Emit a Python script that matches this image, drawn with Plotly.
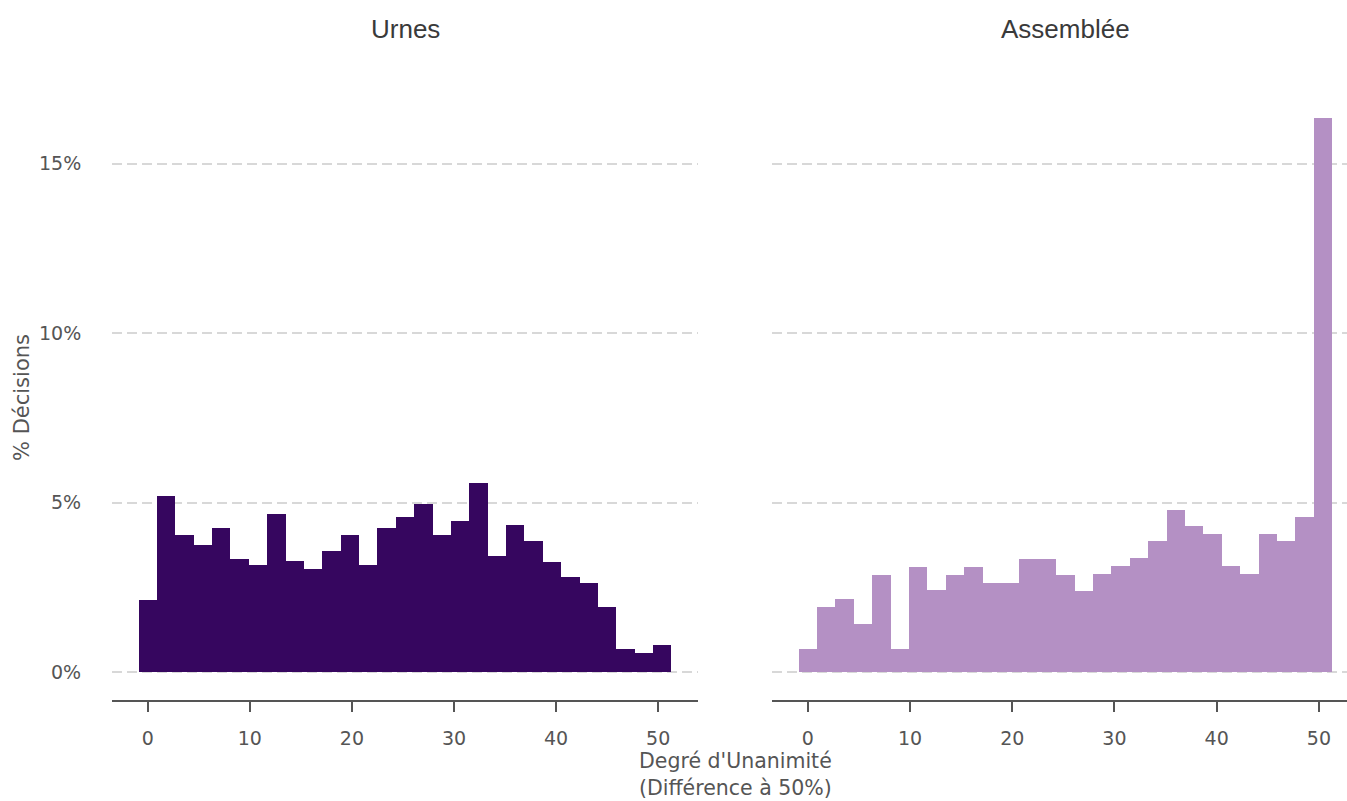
import plotly.graph_objects as go

# Bins: centre of each bin (degree of unanimity), bin width
bin_width = 1.8
bin_centers = [round(i * bin_width, 2) for i in range(29)]

urnes_pct = [2.12, 5.20, 4.06, 3.75, 4.26, 3.35, 3.15, 4.67, 3.27, 3.05,
             3.57, 4.06, 3.15, 4.26, 4.58, 4.97, 4.04, 4.46, 5.57, 3.44,
             4.35, 3.86, 3.24, 2.82, 2.62, 1.91, 0.68, 0.57, 0.79]
assemblee_pct = [0.69, 1.92, 2.17, 1.43, 2.88, 0.69, 3.11, 2.41, 2.88, 3.11,
                 2.63, 2.63, 3.35, 3.35, 2.88, 2.40, 2.89, 3.14, 3.36, 3.86,
                 4.79, 4.32, 4.08, 3.14, 2.89, 4.08, 3.86, 4.57, 16.35]

panel_titles = ["Urnes", "Assemblée"]
x_ticks = [0, 10, 20, 30, 40, 50]
y_ticks = [0, 5, 10, 15]
y_ticklabels = ["0%", "5%", "10%", "15%"]

dark = "#36065f"
light = "#b490c4"
font = "DejaVu Sans, sans-serif"
title_font = "Liberation Sans, Arial, sans-serif"
txt = "#555555"

fig = go.Figure()
fig.add_trace(go.Bar(x=bin_centers, y=urnes_pct, width=bin_width,
                     marker=dict(color=dark, line=dict(width=0)),
                     xaxis="x", yaxis="y", showlegend=False))
fig.add_trace(go.Bar(x=bin_centers, y=assemblee_pct, width=bin_width,
                     marker=dict(color=light, line=dict(width=0)),
                     xaxis="x2", yaxis="y2", showlegend=False))

W, H = 1347, 801
ml, mr, mt, mb = 112, 0, 90, 101
pw = W - ml - mr
ph = H - mt - mb
d1 = [0, (698 - ml) / pw]
d2 = [(772 - ml) / pw, 1]

xcommon = dict(tickmode="array", tickvals=x_ticks, ticks="outside", ticklen=10,
               tickwidth=1.5, tickcolor="#555", showline=True, linecolor="#555",
               linewidth=1.5, showgrid=False, zeroline=False, ticklabelstandoff=10,
               tickfont=dict(family=font, size=19, color=txt))
ycommon = dict(range=[-0.82, 17.17], tickmode="array", tickvals=y_ticks,
               showgrid=True, gridcolor="#d8d8d8", gridwidth=1.6, griddash="10px,5px",
               zeroline=False, showline=False,
               tickfont=dict(family=font, size=19, color=txt))

fig.update_layout(
    width=W, height=H, autosize=False,
    paper_bgcolor="white", plot_bgcolor="white",
    margin=dict(l=ml, r=mr, t=mt, b=mb),
    bargap=0,
    xaxis=dict(domain=d1, range=[-3.5, 53.9], anchor="y", **xcommon),
    xaxis2=dict(domain=d2, range=[-3.5, 52.75], anchor="y2", **xcommon),
    yaxis=dict(anchor="x", ticktext=y_ticklabels, ticks="outside", ticklen=26,
               tickcolor="rgba(0,0,0,0)", **ycommon),
    yaxis2=dict(anchor="x2", showticklabels=False, ticks="", **ycommon),
    font=dict(family=font, color=txt),
)

annotations = []
for title, cx_px in [(panel_titles[0], (ml + 698) / 2), (panel_titles[1], (772 + 1358) / 2)]:
    annotations.append(dict(text=title, xref="paper", yref="paper",
                            x=(cx_px - ml) / pw, y=(700 - 29) / ph,
                            xanchor="center", yanchor="middle", showarrow=False,
                            font=dict(family=title_font, size=26, color="#3a3a3a")))
annotations.append(dict(text="Degré d'Unanimité<br>(Différence à 50%)", xref="paper", yref="paper",
                        x=(735 - ml) / pw, y=(700 - 774) / ph, xanchor="center", yanchor="middle",
                        showarrow=False, font=dict(family=font, size=20.5, color=txt)))
annotations.append(dict(text="% Décisions", xref="paper", yref="paper",
                        x=(22 - ml) / pw, y=(700 - 398) / ph, xanchor="center", yanchor="middle",
                        textangle=-90, showarrow=False, font=dict(family=font, size=21, color=txt)))
fig.update_layout(annotations=annotations)

fig.write_html("out.html", config={"displayModeBar": False},
               post_script="document.body.style.margin='0';document.body.style.overflow='hidden';")
